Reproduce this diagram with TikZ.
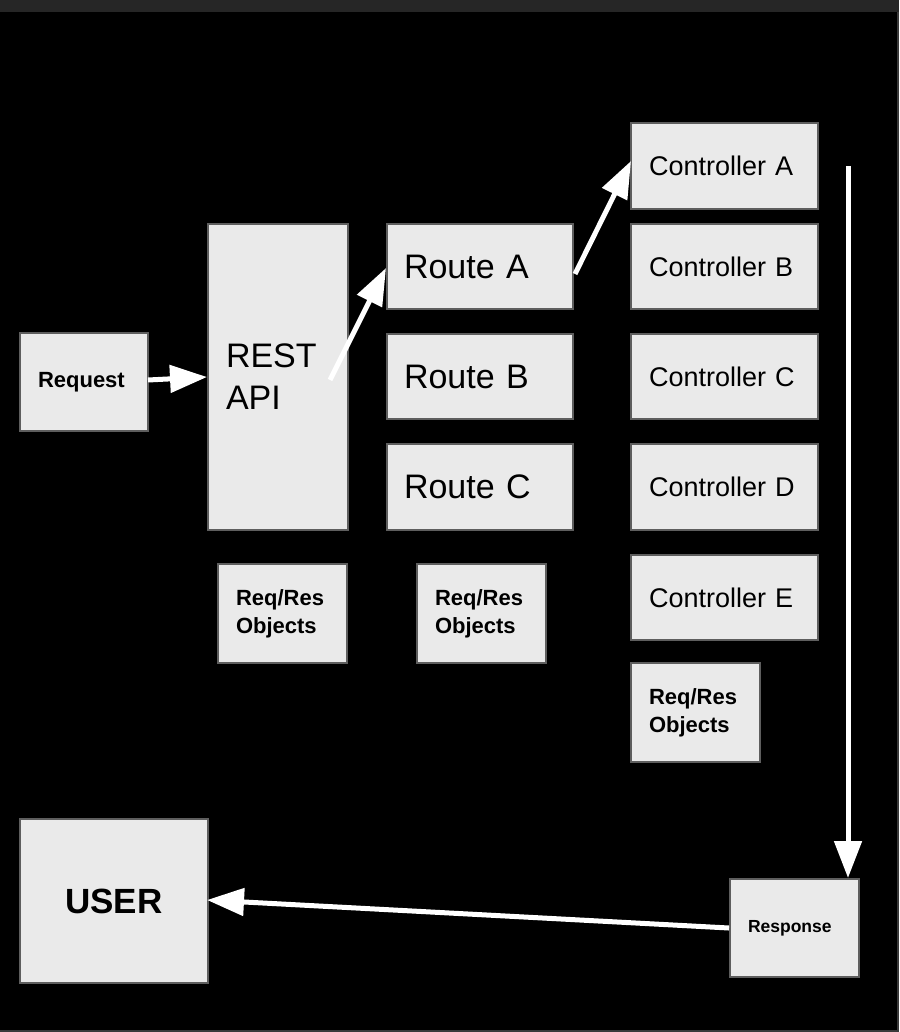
\documentclass[tikz,border=0pt]{standalone}
\usepackage{fontspec}
\setmainfont{Liberation Sans}
\usetikzlibrary{arrows.meta}
\definecolor{boxfill}{HTML}{EAEAEA}
\definecolor{boxline}{HTML}{5E5E5E}
\definecolor{topbar}{HTML}{262626}
\definecolor{edgeline}{HTML}{3A3A3A}
\tikzset{
  box/.style={draw=boxline, line width=2pt, fill=boxfill, anchor=north west, inner ysep=0pt, text=black},
  bigtxt/.style={font=\fontsize{34}{42}\selectfont},
  ctltxt/.style={font=\fontsize{27}{32}\selectfont},
  boldtxt/.style={font=\fontsize{22}{28}\selectfont\bfseries},
  conn/.style={draw=white, line width=5pt, -{Triangle[length=37pt,width=27pt]}},
}
\begin{document}
\begin{tikzpicture}[x=1pt,y=-1pt]
\fill[black] (0,0) rectangle (899,1032);
\useasboundingbox (0,0) rectangle (899,1032);
\fill[topbar] (0,0) rectangle (899,12);
\draw[edgeline, line width=1.5pt] (898,12) -- (898,1031) -- (0,1031);

% nodes
\node[box, boldtxt, inner xsep=18pt, text width=92pt, align=left, minimum height=98pt] (req) at (19,332) {Request};
\node[box, bigtxt, inner xsep=18pt, text width=104pt, align=left, minimum height=306pt] (rest) at (207,223) {REST\\API};

\node[box, bigtxt, inner xsep=17pt, text width=152pt, align=left, minimum height=85pt] (ra) at (386,223) {Route A};
\node[box, bigtxt, inner xsep=17pt, text width=152pt, align=left, minimum height=85pt] (rb) at (386,333) {Route B};
\node[box, bigtxt, inner xsep=17pt, text width=152pt, align=left, minimum height=86pt] (rc) at (386,443) {Route C};

\node[box, ctltxt, inner xsep=18pt, text width=151pt, align=left, minimum height=86pt] (ca) at (630,122) {Controller A};
\node[box, ctltxt, inner xsep=18pt, text width=151pt, align=left, minimum height=85pt] (cb) at (630,223) {Controller B};
\node[box, ctltxt, inner xsep=18pt, text width=151pt, align=left, minimum height=85pt] (cc) at (630,333) {Controller C};
\node[box, ctltxt, inner xsep=18pt, text width=151pt, align=left, minimum height=86pt] (cd) at (630,443) {Controller D};
\node[box, ctltxt, inner xsep=18pt, text width=151pt, align=left, minimum height=85pt] (ce) at (630,554) {Controller E};

\node[box, boldtxt, inner xsep=18pt, text width=93pt, align=left, minimum height=99pt] (o1) at (217,563) {Req/Res\\Objects};
\node[box, boldtxt, inner xsep=18pt, text width=93pt, align=left, minimum height=99pt] (o2) at (416,563) {Req/Res\\Objects};
\node[box, boldtxt, inner xsep=18pt, text width=93pt, align=left, minimum height=99pt] (o3) at (630,662) {Req/Res\\Objects};

\node[box, font=\fontsize{35}{40}\selectfont\bfseries, minimum width=188pt, minimum height=164pt] (user) at (19,818) {USER};
\node[box, font=\fontsize{17.5}{21}\selectfont\bfseries, inner xsep=18pt, text width=93pt, align=left, minimum height=98pt] (resp) at (729,878) {Response};

% connector end points
\coordinate (reqstart) at (148,380);
\coordinate (reqend) at (207,377);
\coordinate (reststart) at (330,380);
\coordinate (raend) at (386,268);
\coordinate (rastart) at (575,274);
\coordinate (caend) at (631,161);
\coordinate (vtop) at (848,166);
\coordinate (respend) at (848,878);
\coordinate (respstart) at (729,928);
\coordinate (userend) at (207,900);

\draw[conn] (reqstart) -- (reqend);
\draw[conn] (reststart) -- (raend);
\draw[conn] (rastart) -- (caend);
\draw[conn] (vtop) -- (respend);
\draw[conn] (respstart) -- (userend);
\end{tikzpicture}
\end{document}
